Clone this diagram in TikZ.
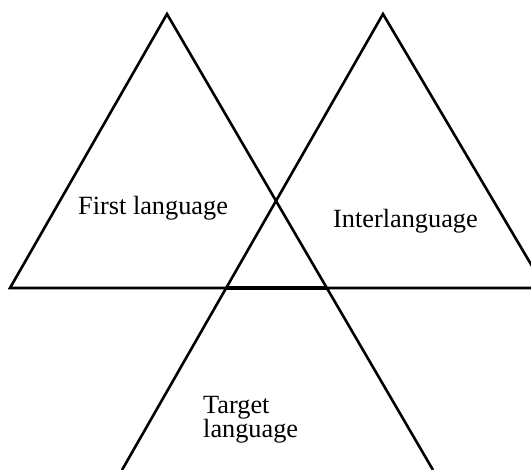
\documentclass[tikz,border=0pt]{standalone}
\usepackage{fontspec}
\setmainfont{Liberation Serif}
\begin{document}
\begin{tikzpicture}[x=1pt,y=-1pt,
  edge/.style={line width=2.6pt,line cap=butt,line join=miter},
  boldedge/.style={line width=3.6pt},
  lbl/.style={inner sep=0pt,font=\fontsize{26.3}{23}\selectfont}]
\useasboundingbox (0,0) rectangle (531,470);
\clip (0,0) rectangle (531,470);
% corner points
\coordinate (LA) at (167,14);
\coordinate (LB) at (10,288);
\coordinate (RA) at (383,14);
\coordinate (RC) at (545,288);
\coordinate (BR) at (433,470);
\coordinate (BL) at (122,470);
\coordinate (HE) at (540,288);
% intersections with the base line
\coordinate (X1) at (intersection of RA--BL and LB--HE);
\coordinate (X2) at (intersection of LA--BR and LB--HE);
% left triangle and its extension
\draw[edge] (BR) -- (LA) -- (LB) -- (HE);
% right triangle and its extension
\draw[edge] (BL) -- (RA) -- (RC);
% bold base of the middle triangle
\draw[boldedge] (X1) -- (X2);
% labels
\node[lbl,anchor=base west] (first) at (78,215) {First language};
\node[lbl,anchor=base west] (inter) at (333,228) {Interlanguage};
\node[lbl,anchor=base west,align=left] (target) at (203,438) {Target\\language};
\end{tikzpicture}
\end{document}
